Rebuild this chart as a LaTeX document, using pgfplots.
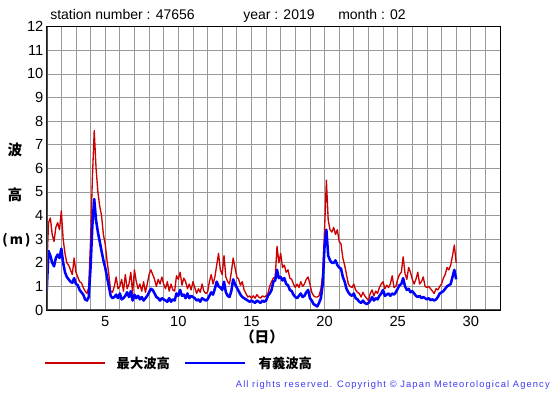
\documentclass[border=0pt]{standalone}
\usepackage{pgfplots}
\pgfplotsset{compat=1.18}
\usepackage{pgfplotstable}
\usepackage{fontspec}
\setmainfont{Liberation Sans}
\newfontfamily\cjk{Noto Sans CJK JP}
\definecolor{wred}{HTML}{CC0000}
\definecolor{wblue}{HTML}{0000FF}
\definecolor{cblue}{HTML}{3A3AF0}
\pgfplotstableread{
x r b
1.0 1.6 0.8
1.125 3.7 2.5
1.25 3.9 2.3
1.375 3.2 2.0
1.5 2.9 1.85
1.625 3.5 2.2
1.75 3.7 2.35
1.875 3.4 2.2
2.0 4.2 2.6
2.125 3.0 2.0
2.25 2.4 1.6
2.375 2.0 1.4
2.5 1.9 1.3
2.625 1.7 1.2
2.75 1.5 1.15
2.875 2.2 1.35
3.0 1.6 1.1
3.125 1.4 1.05
3.25 1.2 0.85
3.375 1.15 0.75
3.5 0.95 0.65
3.625 0.8 0.45
3.75 0.7 0.4
3.875 0.95 0.55
4.0 3.0 1.8
4.125 5.6 3.6
4.25 7.6 4.7
4.375 6.0 3.8
4.5 5.0 3.3
4.625 4.4 2.9
4.75 4.0 2.5
4.875 3.2 2.1
5.0 2.8 1.8
5.125 2.1 1.4
5.25 1.5 1.0
5.375 0.8 0.6
5.5 0.75 0.5
5.625 1.0 0.55
5.75 1.4 0.65
5.875 0.9 0.5
6.0 1.0 0.7
6.125 1.3 0.45
6.25 0.8 0.5
6.375 1.5 0.6
6.5 0.9 0.75
6.625 1.1 0.55
6.75 1.6 0.8
6.875 0.7 0.4
7.0 1.7 0.65
7.125 1.2 0.5
7.25 0.9 0.6
7.375 1.1 0.45
7.5 0.8 0.55
7.625 1.2 0.4
7.75 0.75 0.5
7.875 1.1 0.6
8.0 1.5 0.75
8.125 1.7 0.9
8.25 1.5 0.85
8.375 1.3 0.7
8.5 1.0 0.55
8.625 1.3 0.5
8.75 1.1 0.4
8.875 1.4 0.5
9.0 1.1 0.45
9.125 0.9 0.4
9.25 1.2 0.35
9.375 0.8 0.5
9.5 1.1 0.35
9.625 0.85 0.45
9.75 0.8 0.4
9.875 1.45 0.7
10.0 1.3 0.6
10.125 1.6 0.85
10.25 1.05 0.6
10.375 1.35 0.65
10.5 1.2 0.5
10.625 0.9 0.7
10.75 1.1 0.5
10.875 0.85 0.6
11.0 1.2 0.55
11.125 0.95 0.5
11.25 0.7 0.4
11.375 0.9 0.45
11.5 0.75 0.35
11.625 1.1 0.5
11.75 0.8 0.45
11.875 0.7 0.4
12.0 0.75 0.45
12.125 1.2 0.6
12.25 1.5 0.75
12.375 1.1 0.65
12.5 1.4 0.9
12.625 1.9 1.2
12.75 2.4 1.0
12.875 1.7 0.95
13.0 1.5 0.85
13.125 2.3 1.2
13.25 1.4 0.75
13.375 1.2 0.6
13.5 1.1 0.55
13.625 1.6 0.8
13.75 2.2 1.3
13.875 1.8 1.1
14.0 1.4 0.95
14.125 1.3 0.8
14.25 1.05 0.65
14.375 1.2 0.55
14.5 0.85 0.5
14.625 0.7 0.45
14.75 0.55 0.4
14.875 0.6 0.35
15.0 0.5 0.4
15.125 0.6 0.35
15.25 0.5 0.3
15.375 0.65 0.4
15.5 0.55 0.35
15.625 0.5 0.3
15.75 0.6 0.4
15.875 0.55 0.35
16.0 0.6 0.4
16.125 0.7 0.6
16.25 1.0 0.7
16.375 1.2 0.85
16.5 1.35 1.2
16.625 1.4 1.25
16.75 2.7 1.7
16.875 2.0 1.35
17.0 2.4 1.4
17.125 1.8 1.25
17.25 1.9 1.35
17.375 1.6 1.1
17.5 1.7 1.05
17.625 1.35 0.85
17.75 1.3 0.8
17.875 1.1 0.65
18.0 0.95 0.55
18.125 1.1 0.5
18.25 0.95 0.6
18.375 1.2 0.7
18.5 1.0 0.55
18.625 1.1 0.6
18.75 1.3 0.75
18.875 1.4 0.85
19.0 1.1 0.5
19.125 0.75 0.4
19.25 0.6 0.25
19.375 0.55 0.2
19.5 0.55 0.15
19.625 0.6 0.3
19.75 0.9 0.5
19.875 1.5 1.1
20.0 3.4 2.7
20.125 5.5 3.4
20.25 3.8 2.3
20.375 3.4 2.1
20.5 3.3 2.0
20.625 3.5 2.0
20.75 3.2 2.1
20.875 3.4 1.9
21.0 2.9 1.8
21.125 2.8 1.75
21.25 2.2 1.4
21.375 1.9 1.2
21.5 1.5 0.9
21.625 1.1 0.75
21.75 1.0 0.65
21.875 0.95 0.6
22.0 1.1 0.7
22.125 0.85 0.5
22.25 0.75 0.45
22.375 0.7 0.35
22.5 0.55 0.3
22.625 0.75 0.4
22.75 0.6 0.3
22.875 0.5 0.25
23.0 0.4 0.3
23.125 0.7 0.4
23.25 0.85 0.55
23.375 0.6 0.4
23.5 0.8 0.5
23.625 0.7 0.45
23.75 0.95 0.6
23.875 1.1 0.7
24.0 1.2 0.85
24.125 0.9 0.6
24.25 1.05 0.65
24.375 0.95 0.7
24.5 1.1 0.6
24.625 1.45 0.7
24.75 0.95 0.65
24.875 1.0 0.75
25.0 1.3 0.9
25.125 1.5 1.05
25.25 1.6 1.1
25.375 2.25 1.35
25.5 1.55 1.0
25.625 1.3 0.85
25.75 1.8 0.9
25.875 1.6 0.75
26.0 1.3 0.8
26.125 1.1 0.7
26.25 1.3 0.6
26.375 1.6 0.55
26.5 1.1 0.6
26.625 1.2 0.5
26.75 1.4 0.55
26.875 1.0 0.5
27.0 0.95 0.45
27.125 1.0 0.5
27.25 0.9 0.42
27.375 0.8 0.45
27.5 0.7 0.4
27.625 0.9 0.45
27.75 0.85 0.55
27.875 1.0 0.7
28.0 1.1 0.75
28.125 1.35 0.8
28.25 1.5 0.9
28.375 1.8 1.0
28.5 1.7 1.05
28.625 1.9 1.1
28.75 2.3 1.4
28.875 2.75 1.7
29.0 2.0 1.3
}\wavedata
\begin{document}
\begin{tikzpicture}[x=0.75pt,y=0.75pt]
\useasboundingbox (0,0) rectangle (555,395);
\begin{axis}[
  at={(46.7pt*0.75,85pt*0.75)}, anchor=south west,
  scale only axis,
  width=340pt, height=212.5pt,
  xmin=1, xmax=32, ymin=0, ymax=12,
  xtick={5,10,15,20,25,30},
  minor xtick={1,...,32},
  ytick={0,1,...,12},
  grid=both,
  major grid style={gray!80, line width=0.5pt},
  minor grid style={gray!80, line width=0.5pt},
  tick style={draw=none},
  axis line style={black, line width=0.8pt},
  tick label style={font=\fontsize{11}{12}\selectfont},
  /pgf/number format/assume math mode=true,
  yticklabel style={xshift=1pt},
  xticklabel style={yshift=-1pt},
  clip=true,
]
\addplot[wred, line width=1pt, line join=round] table[x=x,y=r] {\wavedata};
\addplot[wblue, line width=1.9pt, line join=round] table[x=x,y=b] {\wavedata};
\draw[black!70, line width=1.8pt] (axis cs:1,12) -- (axis cs:1,0) -- (axis cs:32,0);
\end{axis}
% title
\node[anchor=base west, inner sep=0pt, font=\fontsize{10.5}{12}\selectfont] at (50,375) {station number : 47656};
\node[anchor=base west, inner sep=0pt, font=\fontsize{10.5}{12}\selectfont] at (243,375) {year : 2019};
\node[anchor=base west, inner sep=0pt, font=\fontsize{10.5}{12}\selectfont] at (338,375) {month : 02};
% y label
\node[font=\cjk\bfseries\fontsize{11}{12}\selectfont] at (15,245) {波};
\node[font=\cjk\bfseries\fontsize{11}{12}\selectfont] at (15,200) {高};
\node[anchor=west, inner sep=0pt, font=\cjk\bfseries\fontsize{10}{12}\selectfont] at (2,155) {(\,m\,)};
% x label
\node[font=\cjk\bfseries\fontsize{11}{12}\selectfont] at (262,58) {（日）};
% legend
\draw[wred, line width=2.2pt] (45,32) -- (105,32);
\node[anchor=west, font=\cjk\bfseries\fontsize{10}{12}\selectfont] at (112,32) {最大波高};
\draw[wblue, line width=2.2pt] (185,32) -- (245,32);
\node[anchor=west, font=\cjk\bfseries\fontsize{10}{12}\selectfont] at (254,32) {有義波高};
% copyright
\node[anchor=east, text=cblue, inner sep=0pt, font=\addfontfeatures{LetterSpace=12}\fontsize{7}{8}\selectfont] at (550,10) {All rights reserved. Copyright © Japan Meteorological Agency};
\end{tikzpicture}
\end{document}
